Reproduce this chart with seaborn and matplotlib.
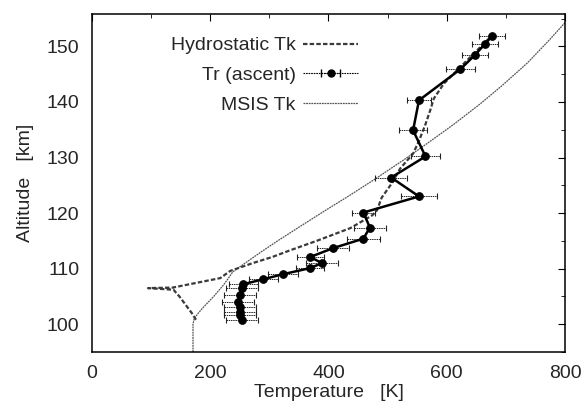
import matplotlib
matplotlib.use("Agg")
import matplotlib.pyplot as plt
from matplotlib.ticker import MultipleLocator
import numpy as np
import pandas as pd
import seaborn as sns

sns.set_style("white")
plt.rcParams['font.family'] = ['Liberation Sans', 'DejaVu Sans']

# MSIS model temperature profile
msis_alt = [95, 98, 100, 101, 102, 103, 104, 105, 106, 107, 108, 109.4, 111, 113, 115,
            118, 120.5, 123, 126, 128, 130, 133, 136, 139.7, 143, 147, 151, 155]
msis_temp = [171, 171, 171, 173, 180, 188, 197, 206, 214, 222, 229, 238, 259, 286, 314,
             358, 395, 433, 477, 505, 533, 573, 612, 657, 694, 736, 772, 806]

# hydrostatic temperature (integrated from the density profile)
hydro_alt = [100.8, 102, 103, 104, 105, 106.2, 106.4, 106.5, 106.6, 108.3, 109.6, 111,
             112.1, 113.3, 115, 117.3, 119.6, 120.5, 122.8, 125.5, 128, 130.7, 133, 136,
             138.5, 140.6, 143.3, 146.2, 149.8, 151.5]
hydro_temp = [176, 169, 162, 155, 148, 138, 110, 95, 137, 217, 234, 272,
              305, 335, 380, 437, 474, 482, 490, 508, 521, 543, 553, 564,
              572, 578, 595, 622, 656, 672]

# rotational temperature, ascent
tr_alt = [100.7, 101.6, 102.2, 103.1, 104.0, 105.2, 106.5, 107.2, 108.1, 109.0, 110.1,
          111.0, 112.1, 113.7, 115.4, 117.4, 120.1, 123.0, 126.4, 130.2, 134.9, 140.3,
          145.9, 148.5, 150.5, 151.8]
tr_temp = [254, 250, 250, 250, 247, 250, 254, 256, 290, 323, 369,
           389, 369, 408, 459, 470, 459, 553, 506, 564, 543, 553,
           623, 648, 665, 676]
tr_err = [27, 27, 27, 27, 27, 27, 27, 25, 25, 25, 24,
          27, 23, 27, 28, 27, 20, 31, 27, 25, 24, 20,
          25, 22, 22, 22]

msis = pd.DataFrame({'T': msis_temp, 'z': msis_alt})
hydro = pd.DataFrame({'T': hydro_temp, 'z': hydro_alt})
tr = pd.DataFrame({'T': tr_temp, 'z': tr_alt, 'err': tr_err})

fig = plt.figure(figsize=(5.85, 4.12), dpi=100)
ax = fig.add_axes([0.157, 0.1456, 0.809, 0.820])

sns.lineplot(data=msis, x='T', y='z', sort=False, orient='y', ax=ax,
             color='#555555', lw=0.9, linestyle=(0, (1.5, 0.6)), label='MSIS Tk')
sns.lineplot(data=hydro, x='T', y='z', sort=False, orient='y', ax=ax,
             color='#3a3a3a', lw=1.6, linestyle=(0, (2.0, 1.0)), label='Hydrostatic Tk')

eb = ax.errorbar(tr['T'], tr['z'], xerr=tr['err'], fmt='none', ecolor='#222222',
                 elinewidth=0.7, capsize=2.5, capthick=0.8)
eb[2][0].set_linestyle((0, (1.5, 0.8)))
sns.lineplot(data=tr, x='T', y='z', sort=False, orient='y', ax=ax,
             color='black', lw=1.8, marker='o', markersize=5.5, markeredgecolor='black')

# legend proxy for the error-bar series
proxy = ax.errorbar([np.nan], [np.nan], xerr=[[1], [1]], fmt='o', ls=(0, (1.5, 0.8)),
                    lw=0.8, color='black', ms=5, elinewidth=0.8, capsize=3,
                    label='Tr (ascent)')
proxy[2][0].set_linestyle((0, (1.5, 0.8)))

handles, labels = ax.get_legend_handles_labels()
order = [labels.index(n) for n in ['Hydrostatic Tk', 'Tr (ascent)', 'MSIS Tk']]
ax.legend([handles[i] for i in order], [labels[i] for i in order],
          loc='upper right', bbox_to_anchor=(0.562, 0.933), frameon=False,
          markerfirst=False, fontsize=14, handlelength=2.8, handletextpad=0.4,
          labelspacing=0.62, borderpad=0, borderaxespad=0)

ax.set_xlim(0, 800)
ax.set_ylim(95, 155.8)
ax.xaxis.set_major_locator(MultipleLocator(200))
ax.xaxis.set_minor_locator(MultipleLocator(100))
ax.yaxis.set_major_locator(MultipleLocator(10))
ax.yaxis.set_minor_locator(MultipleLocator(5))
ax.tick_params(which='both', direction='in', top=True, right=True, color='black')
ax.tick_params(which='major', length=5, width=0.8, labelsize=14)
ax.tick_params(axis='x', which='major', pad=9)
ax.tick_params(axis='y', which='major', pad=9)
ax.tick_params(which='minor', length=3, width=0.6)
for s in ax.spines.values():
    s.set_color('black')
    s.set_linewidth(1.1)

ax.set_xlabel('Temperature   [K]', fontsize=14, labelpad=2)
ax.set_ylabel('Altitude   [km]', fontsize=14, labelpad=9)

fig.savefig('out.png', dpi=100)
